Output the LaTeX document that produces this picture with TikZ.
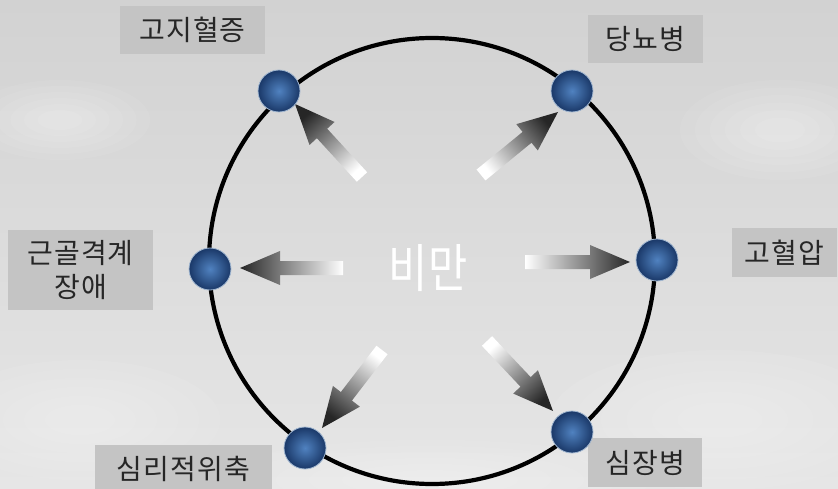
\documentclass[tikz,border=0pt]{standalone}
\usepackage{fontspec}
\usepackage{graphicx}
\newfontfamily\kr[LetterSpace=4]{Noto Sans CJK KR}
\newfontfamily\krc{Noto Sans CJK KR}
\usetikzlibrary{calc}
\definecolor{bgtop}{RGB}{210,210,210}
\definecolor{bgbot}{RGB}{230,230,230}
\definecolor{boxgray}{RGB}{196,196,196}
\definecolor{txtgray}{RGB}{38,38,38}
\definecolor{dotin}{RGB}{80,130,192}
\definecolor{dotout}{RGB}{26,56,104}
\definecolor{dotrim}{RGB}{160,182,208}
\tikzset{
 lbl/.style={fill=boxgray, text=txtgray, font=\kr\fontsize{28}{34}\selectfont, inner sep=0pt, align=center, minimum height=48pt},
 bluedot/.style={circle, minimum size=42pt, inner sep=0pt, inner color=dotin, outer color=dotout, draw=dotrim, line width=0.8pt},
 ringstyle/.style={circle, draw=black, line width=4.2pt, minimum size=446pt, inner sep=0pt},
}
\newcommand\softcloud[3]{%
 \foreach \s in {1,0.85,0.7,0.55,0.4,0.25}{
  \fill[white, opacity=0.07] (#1) ellipse ({#2*\s} and {#3*\s});}}
\newcommand\blockarr[3]{%
 \coordinate (#1hb) at ($(#2)!40pt!(#1)$);
 \shade[top color=white, bottom color=black!85, shading angle=#3]
  ($(#1)!7pt!90:(#2)$) -- ($(#1hb)!7pt!90:(#2)$) -- ($(#1hb)!17pt!90:(#2)$) -- (#2)
  -- ($(#1hb)!17pt!-90:(#2)$) -- ($(#1hb)!7pt!-90:(#2)$) -- ($(#1)!7pt!-90:(#2)$) -- cycle;}
\begin{document}
\begin{tikzpicture}[x=1pt,y=-1pt]
\useasboundingbox (0,0) rectangle (838,489);
\clip (0,0) rectangle (838,489);
\shade[top color=bgtop, bottom color=bgbot] (0,0) rectangle (838,489);
% soft clouds
\softcloud{720,420}{170}{70}
\softcloud{80,420}{140}{60}
\softcloud{780,130}{100}{50}
\softcloud{430,480}{220}{40}
\softcloud{60,120}{90}{40}

% ring
\node[ringstyle] (ring) at (432,261) {};

% labels
\node[lbl, minimum width=145pt] (lTL) at (192.5,30) {고지혈증};
\node[lbl, minimum width=115pt] (lTR) at (645.5,39) {당뇨병};
\node[lbl, minimum width=145pt, minimum height=80pt] (lL) at (80.5,270) {근골격계\\장애};
\node[lbl, minimum width=105pt, minimum height=49pt] (lR) at (784.5,252.5) {고혈압};
\node[lbl, minimum width=177pt, minimum height=48pt] (lBL) at (183.5,469) {심리적위축};
\node[lbl, minimum width=114pt, minimum height=49pt] (lBR) at (645,462.5) {심장병};

% center text
\node[text=white, font=\krc\fontsize{52}{52}\selectfont, inner sep=0pt] (obesity) at (428,268) {\scalebox{0.82}[1]{비만}};

% arrow end points
\coordinate (aLt) at (343,268);  \coordinate (aLh) at (240,268);
\coordinate (aRt) at (525,262);  \coordinate (aRh) at (630,262);
\coordinate (aTLt) at (362,177); \coordinate (aTLh) at (295,104);
\coordinate (aTRt) at (481,175); \coordinate (aTRh) at (558,112);
\coordinate (aBLt) at (382,350); \coordinate (aBLh) at (322,428);
\coordinate (aBRt) at (487,341); \coordinate (aBRh) at (553,411);

\blockarr{aLt}{aLh}{270}
\blockarr{aRt}{aRh}{90}
\blockarr{aTLt}{aTLh}{222.5}
\blockarr{aTRt}{aTRh}{129.3}
\blockarr{aBLt}{aBLh}{322.4}
\blockarr{aBRt}{aBRh}{43.3}

% dots
\node[bluedot] (dTL) at (279,91) {};
\node[bluedot] (dTR) at (572,91) {};
\node[bluedot] (dL) at (210,269) {};
\node[bluedot] (dR) at (657,260) {};
\node[bluedot] (dBL) at (305,448) {};
\node[bluedot] (dBR) at (572,432) {};
\end{tikzpicture}
\end{document}
